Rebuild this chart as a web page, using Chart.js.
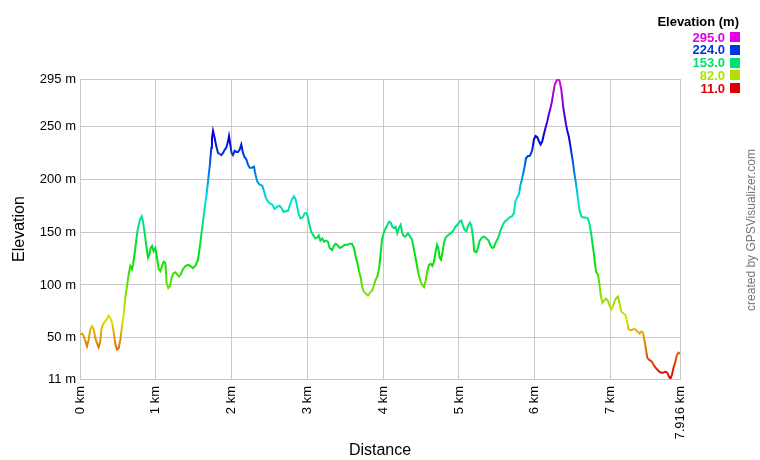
<!DOCTYPE html>
<html>
<head>
<meta charset="utf-8">
<script src="https://cdn.jsdelivr.net/npm/chart.js@4.4.0/dist/chart.umd.min.js"></script>
<style>
  body { margin: 0; background: #fff; }
  #wrap { position: relative; width: 760px; height: 460px; font-family: "Liberation Sans", Arial, sans-serif; }
  #chart { position: absolute; left: 0; top: 0; }
  .leg { position: absolute; font-size: 13px; font-weight: bold; line-height: 13px; height: 13px; white-space: nowrap; }
  .sq { position: absolute; width: 10px; height: 10px; }
  #credit { position: absolute; width: 200px; text-align: center; font-size: 12px; line-height: 14px; color: #777;
            transform: rotate(-90deg); transform-origin: 50% 50%; }
</style>
</head>
<body>
<div id="wrap">
  <canvas id="chart" width="760" height="460"></canvas>
  <div id="credit">created by GPSVisualizer.com</div>
</div>
<script>
Chart.defaults.font.family = '"Liberation Sans", Arial, sans-serif'

// track profile: distance (km) and elevation (m)
const distKm = [
	0.000, 0.026, 0.048, 0.070, 0.092, 0.114, 0.136, 0.158, 0.180, 0.202, 0.224, 0.246, 0.268, 0.281, 0.312, 0.347,
	0.378, 0.405, 0.427, 0.449, 0.466, 0.488, 0.510, 0.532, 0.554, 0.576, 0.598, 0.620, 0.642, 0.664, 0.686, 0.699,
	0.721, 0.743, 0.765, 0.792, 0.814, 0.831, 0.853, 0.875, 0.897, 0.915, 0.932, 0.950, 0.972, 0.994, 1.016, 1.038,
	1.060, 1.082, 1.104, 1.126, 1.143, 1.165, 1.187, 1.209, 1.231, 1.258, 1.280, 1.306, 1.328, 1.359, 1.390, 1.425,
	1.456, 1.491, 1.522, 1.557, 1.579, 1.601, 1.623, 1.645, 1.667, 1.689, 1.711, 1.733, 1.741, 1.755, 1.777, 1.799,
	1.821, 1.843, 1.865, 1.887, 1.909, 1.930, 1.953, 1.966, 1.985, 2.000, 2.018, 2.041, 2.062, 2.084, 2.106, 2.128,
	2.150, 2.172, 2.194, 2.216, 2.238, 2.269, 2.296, 2.313, 2.339, 2.370, 2.405, 2.427, 2.449, 2.480, 2.511, 2.537,
	2.568, 2.599, 2.634, 2.656, 2.687, 2.713, 2.744, 2.766, 2.797, 2.823, 2.845, 2.863, 2.885, 2.911, 2.938, 2.964,
	2.990, 3.008, 3.030, 3.052, 3.078, 3.105, 3.131, 3.149, 3.171, 3.197, 3.219, 3.245, 3.272, 3.294, 3.325, 3.351,
	3.373, 3.395, 3.426, 3.456, 3.492, 3.527, 3.558, 3.588, 3.615, 3.637, 3.659, 3.681, 3.703, 3.720, 3.742, 3.769,
	3.799, 3.830, 3.857, 3.879, 3.901, 3.923, 3.945, 3.967, 3.984, 4.006, 4.028, 4.050, 4.077, 4.099, 4.120, 4.142,
	4.164, 4.186, 4.208, 4.230, 4.252, 4.274, 4.296, 4.327, 4.354, 4.380, 4.402, 4.424, 4.446, 4.468, 4.490, 4.516,
	4.538, 4.560, 4.582, 4.604, 4.626, 4.648, 4.670, 4.688, 4.710, 4.727, 4.745, 4.763, 4.780, 4.802, 4.824, 4.855,
	4.890, 4.921, 4.952, 4.978, 5.009, 5.031, 5.053, 5.075, 5.097, 5.119, 5.145, 5.163, 5.185, 5.202, 5.229, 5.251,
	5.273, 5.303, 5.330, 5.361, 5.391, 5.418, 5.440, 5.462, 5.484, 5.506, 5.528, 5.550, 5.572, 5.603, 5.638, 5.669,
	5.699, 5.726, 5.743, 5.770, 5.792, 5.809, 5.831, 5.849, 5.866, 5.884, 5.910, 5.932, 5.946, 5.967, 5.989, 6.011,
	6.033, 6.055, 6.077, 6.099, 6.121, 6.143, 6.165, 6.187, 6.209, 6.227, 6.245, 6.262, 6.284, 6.306, 6.328, 6.350,
	6.363, 6.376, 6.394, 6.412, 6.429, 6.451, 6.469, 6.486, 6.504, 6.522, 6.539, 6.557, 6.575, 6.592, 6.614, 6.640,
	6.667, 6.702, 6.724, 6.746, 6.763, 6.781, 6.794, 6.812, 6.834, 6.851, 6.869, 6.891, 6.913, 6.939, 6.966, 6.988,
	7.010, 7.032, 7.054, 7.080, 7.098, 7.120, 7.142, 7.168, 7.194, 7.216, 7.238, 7.265, 7.296, 7.326, 7.353, 7.384,
	7.406, 7.427, 7.449, 7.467, 7.485, 7.511, 7.537, 7.564, 7.590, 7.617, 7.643, 7.669, 7.696, 7.722, 7.748, 7.766,
	7.788, 7.810, 7.832, 7.850, 7.872, 7.894, 7.916
]
const elevM = [
	53, 54, 52, 47, 42, 48, 58, 61, 58, 50, 45, 41, 47, 58, 64, 67,
	71, 68, 63, 53, 44, 39, 40, 48, 61, 72, 88, 99, 110, 118, 115, 119,
	130, 143, 154, 162, 165, 160, 149, 137, 126, 129, 135, 137, 132, 135, 126, 115,
	113, 118, 122, 121, 102, 97, 99, 107, 111, 112, 110, 108, 110, 115, 118, 119,
	118, 116, 118, 124, 135, 148, 160, 173, 184, 198, 212, 230, 239, 246, 239, 231,
	225, 224, 223, 225, 228, 230, 236, 241, 232, 225, 223, 227, 226, 226, 228, 233,
	225, 221, 219, 214, 211, 211, 212, 205, 198, 195, 194, 189, 183, 179, 177, 176,
	172, 174, 175, 173, 169, 170, 170, 175, 181, 184, 181, 175, 167, 163, 164, 168,
	168, 164, 156, 150, 147, 144, 145, 147, 142, 144, 141, 142, 141, 135, 133, 137,
	139, 138, 135, 136, 138, 138, 139, 139, 135, 127, 121, 113, 107, 99, 94, 92,
	90, 93, 95, 100, 105, 108, 115, 130, 143, 149, 153, 156, 160, 159, 155, 154,
	155, 149, 154, 157, 149, 146, 146, 149, 146, 143, 135, 127, 118, 110, 104, 100,
	98, 104, 113, 119, 120, 118, 122, 130, 138, 135, 126, 124, 130, 140, 145, 147,
	149, 151, 155, 157, 160, 161, 156, 152, 151, 156, 159, 156, 145, 132, 131, 135,
	142, 145, 146, 144, 142, 137, 135, 136, 140, 143, 147, 152, 156, 160, 162, 164,
	165, 168, 179, 183, 186, 194, 200, 206, 212, 220, 222, 222, 224, 228, 238, 241,
	240, 236, 233, 236, 243, 249, 255, 262, 268, 274, 282, 289, 293, 295, 293, 285,
	277, 268, 260, 252, 246, 240, 232, 224, 216, 206, 198, 189, 178, 170, 165, 164,
	164, 163, 157, 148, 138, 129, 120, 112, 110, 102, 91, 83, 85, 87, 85, 80,
	77, 80, 85, 88, 89, 82, 75, 73, 72, 66, 58, 57, 58, 58, 56, 54,
	56, 55, 47, 39, 31, 29, 28, 25, 22, 20, 18, 17, 17, 18, 17, 14,
	11, 15, 22, 26, 33, 36, 35
]

const xTicks = [0, 1, 2, 3, 4, 5, 6, 7, 7.916]
const yTicks = [11, 50, 100, 150, 200, 250, 295]
const legendValues = ['295.0', '224.0', '153.0', '82.0', '11.0']
const legendColors = ['#e000e0', '#0035e0', '#00e070', '#b0e000', '#e00000']

const gridColor = '#c8c8c8'

// line colour follows the elevation: red at the bottom, magenta at the top
function elevationGradient(context) {
	const chart = context.chart
	if (!chart.chartArea) { return null }
	const y = chart.scales.y
	const g = chart.ctx.createLinearGradient(0, y.getPixelForValue(yTicks[0]), 0, y.getPixelForValue(yTicks[yTicks.length-1]))
	for (let h = 0; h <= 300; h += 10) {
		g.addColorStop(h/300, `hsl(${h}, 100%, 44%)`)
	}
	return g
}

const ctx = document.getElementById('chart')
const chart = new Chart(ctx, {
	type: 'line',
	data: {
		datasets: [{
			data: distKm.map((d, i) => ({x: d, y: elevM[i]})),
			borderColor: elevationGradient,
			borderWidth: 2,
			pointRadius: 0,
			tension: 0,
			fill: false
		}]
	},
	options: {
		responsive: false,
		animation: false,
		events: [],
		layout: { padding: { left: 0, top: 79, right: 80, bottom: 0 } },
		plugins: { legend: { display: false }, tooltip: { enabled: false } },
		scales: {
			x: {
				type: 'linear',
				min: 0, max: 7.916,
				afterBuildTicks: s => { s.ticks = xTicks.map(v => ({value: v})) },
				afterFit: s => { s.height = 81 },
				grid: { color: gridColor, drawTicks: false },
				border: { color: gridColor },
				ticks: {
					autoSkip: false, minRotation: 90, maxRotation: 90, padding: 7,
					color: '#000', font: { size: 13 },
					callback: v => v + ' km'
				},
				title: { display: true, text: 'Distance', color: '#000', font: { size: 16 }, padding: { top: 0, bottom: 0 } }
			},
			y: {
				min: 11, max: 295,
				afterBuildTicks: s => { s.ticks = yTicks.map(v => ({value: v})) },
				afterFit: s => { s.width = 80 },
				grid: { color: gridColor, drawTicks: false },
				border: { color: gridColor },
				ticks: { padding: 4, color: '#000', font: { size: 13 }, callback: v => v + ' m' },
				title: { display: true, text: 'Elevation', color: '#000', font: { size: 16 }, padding: { top: 10, bottom: 0 } }
			}
		}
	}
})

// legend, top right
const wrap = document.getElementById('wrap')
const title = document.createElement('div')
title.className = 'leg'
title.textContent = 'Elevation (m)'
title.style.right = (760 - 739) + 'px'
title.style.top = '15px'
wrap.appendChild(title)
legendValues.forEach((v, i) => {
	const cy = 37 + i*12.75
	const t = document.createElement('div')
	t.className = 'leg'
	t.textContent = v
	t.style.color = legendColors[i]
	t.style.right = (760 - 725) + 'px'
	t.style.top = (cy - 6.5) + 'px'
	wrap.appendChild(t)
	const sq = document.createElement('div')
	sq.className = 'sq'
	sq.style.background = legendColors[i]
	sq.style.left = '730px'
	sq.style.top = (cy - 5) + 'px'
	wrap.appendChild(sq)
})

const credit = document.getElementById('credit')
credit.style.left = (751 - 100) + 'px'
credit.style.top = (230 - 7) + 'px'
</script>
</body>
</html>
